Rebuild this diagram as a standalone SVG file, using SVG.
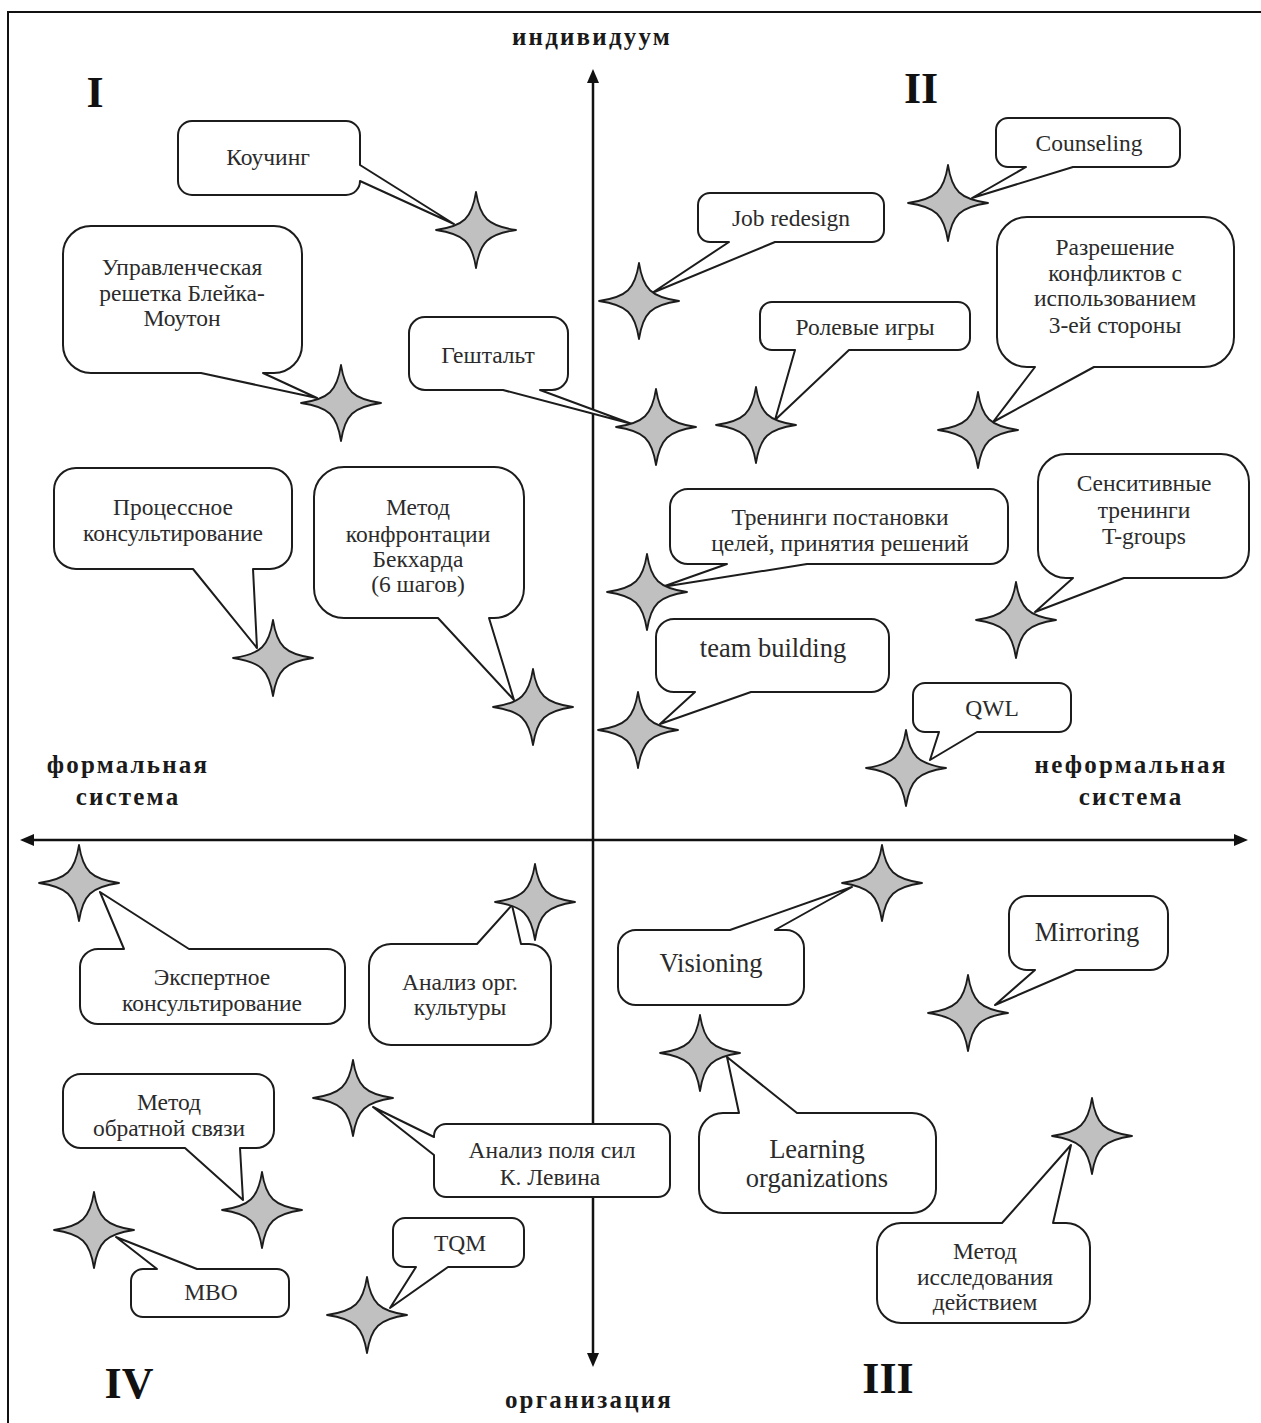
<svg xmlns="http://www.w3.org/2000/svg" width="1261" height="1423" viewBox="0 0 1261 1423">
<style>
.box{fill:#fff;stroke:#1c1c1c;stroke-width:2;stroke-linejoin:round}
.star{fill:#c0c0c0;stroke:#1c1c1c;stroke-width:1.8;stroke-linejoin:round}
.t{font-family:"Liberation Serif","Times New Roman",serif;font-size:23.5px;fill:#2b2b2b;text-anchor:middle}
.tl{font-size:26.5px}
.ax{font-family:"Liberation Serif","Times New Roman",serif;font-weight:bold;font-size:25px;letter-spacing:2.2px;fill:#1a1a1a;text-anchor:middle}
.num{font-family:"Liberation Serif","Times New Roman",serif;font-weight:bold;font-size:44px;fill:#111;text-anchor:middle}
.axis{stroke:#111;stroke-width:2.5;fill:none;marker-start:url(#arr);marker-end:url(#arr)}
.frame{stroke:#111;stroke-width:2;fill:none}
</style>
<defs>
<marker id="arr" markerUnits="userSpaceOnUse" markerWidth="14" markerHeight="12" refX="2" refY="6" orient="auto-start-reverse">
<path d="M0,0 L14,6 L0,12 Z" fill="#111"/>
</marker>
<!-- four-pointed star centred on 0,0 -->
<path id="star" d="M0,-38 C4,-12 12,-4 40,0 C12,4 4,12 0,38 C-4,12 -12,4 -40,0 C-12,-4 -4,-12 0,-38 Z"/>
</defs>

<rect width="1261" height="1423" fill="#fff"/>
<path class="frame" d="M8,1423 V12 H1261"/>

<!-- axes -->
<g id="connectors">
<line class="axis" x1="593" y1="1355" x2="593" y2="81"/>
<line class="axis" x1="32" y1="840" x2="1236" y2="840"/>
</g>

<!-- axis captions and quadrant numbers -->
<g id="labels">
<text class="ax" x="592" y="45">индивидуум</text>
<text class="ax" x="589" y="1408">организация</text>
<text class="ax" x="128" y="773">формальная</text>
<text class="ax" x="128" y="805">система</text>
<text class="ax" x="1131" y="773">неформальная</text>
<text class="ax" x="1131" y="805">система</text>
<text class="num" x="95" y="107">I</text>
<text class="num" x="921" y="103">II</text>
<text class="num" x="888" y="1393">III</text>
<text class="num" x="129" y="1398">IV</text>
</g>

<!-- quadrant I -->
<g id="coaching">
<path class="box" d="M192,121 H346 A14,14 0 0 1 360,135 V165 L454,224 L360,181 A14,14 0 0 1 346,195 H192 A14,14 0 0 1 178,181 V135 A14,14 0 0 1 192,121 Z"/>
<text class="t" x="268" y="165">Коучинг</text>
<use href="#star" class="star" x="476" y="230"/>
</g>
<g id="blake-mouton">
<path class="box" d="M91,226 H274 A28,28 0 0 1 302,254 V345 A28,28 0 0 1 274,373 H263 L317,398 L201,373 H91 A28,28 0 0 1 63,345 V254 A28,28 0 0 1 91,226 Z"/>
<text class="t" x="182" y="275">Управленческая</text>
<text class="t" x="182" y="301">решетка Блейка-</text>
<text class="t" x="182" y="326">Моутон</text>
<use href="#star" class="star" x="341" y="403"/>
</g>
<g id="gestalt">
<path class="box" d="M425,317 H552 A16,16 0 0 1 568,333 V374 A16,16 0 0 1 552,390 H540 L632,424 L503,390 H425 A16,16 0 0 1 409,374 V333 A16,16 0 0 1 425,317 Z"/>
<text class="t" x="488" y="363">Гештальт</text>
<use href="#star" class="star" x="656" y="427"/>
</g>
<g id="process-consulting">
<path class="box" d="M76,468 H270 A22,22 0 0 1 292,490 V547 A22,22 0 0 1 270,569 H253 L257,648 L193,569 H76 A22,22 0 0 1 54,547 V490 A22,22 0 0 1 76,468 Z"/>
<text class="t" x="173" y="515">Процессное</text>
<text class="t" x="173" y="541">консультирование</text>
<use href="#star" class="star" x="273" y="658"/>
</g>
<g id="beckhard">
<path class="box" d="M344,467 H494 A30,30 0 0 1 524,497 V588 A30,30 0 0 1 494,618 H489 L514,700 L438,618 H344 A30,30 0 0 1 314,588 V497 A30,30 0 0 1 344,467 Z"/>
<text class="t" x="418" y="515">Метод</text>
<text class="t" x="418" y="542">конфронтации</text>
<text class="t" x="418" y="567">Бекхарда</text>
<text class="t" x="418" y="592">(6 шагов)</text>
<use href="#star" class="star" x="533" y="707"/>
</g>

<!-- quadrant II -->
<g id="job-redesign">
<path class="box" d="M710,193 H872 A12,12 0 0 1 884,205 V230 A12,12 0 0 1 872,242 H775 L652,293 L729,242 H710 A12,12 0 0 1 698,230 V205 A12,12 0 0 1 710,193 Z"/>
<text class="t" x="791" y="226">Job redesign</text>
<use href="#star" class="star" x="639" y="301"/>
</g>
<g id="counseling">
<path class="box" d="M1008,118 H1168 A12,12 0 0 1 1180,130 V155 A12,12 0 0 1 1168,167 H1073 L972,198 L1026,167 H1008 A12,12 0 0 1 996,155 V130 A12,12 0 0 1 1008,118 Z"/>
<text class="t" x="1089" y="151">Counseling</text>
<use href="#star" class="star" x="948" y="203"/>
</g>
<g id="role-play">
<path class="box" d="M772,302 H958 A12,12 0 0 1 970,314 V338 A12,12 0 0 1 958,350 H849 L775,420 L795,350 H772 A12,12 0 0 1 760,338 V314 A12,12 0 0 1 772,302 Z"/>
<text class="t" x="865" y="335">Ролевые игры</text>
<use href="#star" class="star" x="756" y="425"/>
</g>
<g id="third-party">
<path class="box" d="M1027,217 H1204 A30,30 0 0 1 1234,247 V337 A30,30 0 0 1 1204,367 H1094 L993,422 L1035,367 H1027 A30,30 0 0 1 997,337 V247 A30,30 0 0 1 1027,217 Z"/>
<text class="t" x="1115" y="255">Разрешение</text>
<text class="t" x="1115" y="281">конфликтов с</text>
<text class="t" x="1115" y="306">использованием</text>
<text class="t" x="1115" y="333">3-ей стороны</text>
<use href="#star" class="star" x="978" y="430"/>
</g>
<g id="goal-training">
<path class="box" d="M688,489 H990 A18,18 0 0 1 1008,507 V546 A18,18 0 0 1 990,564 H807 L662,587 L727,564 H688 A18,18 0 0 1 670,546 V507 A18,18 0 0 1 688,489 Z"/>
<text class="t" x="840" y="525">Тренинги постановки</text>
<text class="t" x="840" y="551">целей, принятия решений</text>
<use href="#star" class="star" x="647" y="592"/>
</g>
<g id="t-groups">
<path class="box" d="M1066,454 H1221 A28,28 0 0 1 1249,482 V550 A28,28 0 0 1 1221,578 H1124 L1035,612 L1073,578 H1066 A28,28 0 0 1 1038,550 V482 A28,28 0 0 1 1066,454 Z"/>
<text class="t" x="1144" y="491">Сенситивные</text>
<text class="t" x="1144" y="518">тренинги</text>
<text class="t" x="1144" y="544">T-groups</text>
<use href="#star" class="star" x="1016" y="620"/>
</g>
<g id="team-building">
<path class="box" d="M674,619 H871 A18,18 0 0 1 889,637 V674 A18,18 0 0 1 871,692 H751 L660,724 L695,692 H674 A18,18 0 0 1 656,674 V637 A18,18 0 0 1 674,619 Z"/>
<text class="t tl" x="773" y="657">team building</text>
<use href="#star" class="star" x="638" y="730"/>
</g>
<g id="qwl">
<path class="box" d="M925,683 H1059 A12,12 0 0 1 1071,695 V720 A12,12 0 0 1 1059,732 H977 L930,760 L939,732 H925 A12,12 0 0 1 913,720 V695 A12,12 0 0 1 925,683 Z"/>
<text class="t" x="992" y="716">QWL</text>
<use href="#star" class="star" x="906" y="768"/>
</g>

<!-- quadrant III -->
<g id="visioning">
<path class="box" d="M636,930 H730 L852,887 L775,930 H786 A18,18 0 0 1 804,948 V987 A18,18 0 0 1 786,1005 H636 A18,18 0 0 1 618,987 V948 A18,18 0 0 1 636,930 Z"/>
<text class="t tl" x="711" y="972">Visioning</text>
<use href="#star" class="star" x="882" y="883"/>
</g>
<g id="mirroring">
<path class="box" d="M1027,896 H1150 A18,18 0 0 1 1168,914 V952 A18,18 0 0 1 1150,970 H1076 L995,1005 L1035,970 H1027 A18,18 0 0 1 1009,952 V914 A18,18 0 0 1 1027,896 Z"/>
<text class="t tl" x="1087" y="941">Mirroring</text>
<use href="#star" class="star" x="968" y="1013"/>
</g>
<g id="learning-org">
<path class="box" d="M723,1113 H739 L727,1057 L797,1113 H912 A24,24 0 0 1 936,1137 V1189 A24,24 0 0 1 912,1213 H723 A24,24 0 0 1 699,1189 V1137 A24,24 0 0 1 723,1113 Z"/>
<text class="t tl" x="817" y="1158">Learning</text>
<text class="t tl" x="817" y="1187">organizations</text>
<use href="#star" class="star" x="700" y="1053"/>
</g>
<g id="action-research">
<path class="box" d="M901,1223 H1002 L1071,1145 L1053,1223 H1066 A24,24 0 0 1 1090,1247 V1299 A24,24 0 0 1 1066,1323 H901 A24,24 0 0 1 877,1299 V1247 A24,24 0 0 1 901,1223 Z"/>
<text class="t" x="985" y="1259">Метод</text>
<text class="t" x="985" y="1285">исследования</text>
<text class="t" x="985" y="1310">действием</text>
<use href="#star" class="star" x="1092" y="1136"/>
</g>

<!-- quadrant IV -->
<g id="expert-consulting">
<path class="box" d="M98,949 H124 L100,892 L189,949 H327 A18,18 0 0 1 345,967 V1006 A18,18 0 0 1 327,1024 H98 A18,18 0 0 1 80,1006 V967 A18,18 0 0 1 98,949 Z"/>
<text class="t" x="212" y="985">Экспертное</text>
<text class="t" x="212" y="1011">консультирование</text>
<use href="#star" class="star" x="79" y="883"/>
</g>
<g id="culture-analysis">
<path class="box" d="M391,944 H477 L512,905 L521,944 H529 A22,22 0 0 1 551,966 V1023 A22,22 0 0 1 529,1045 H391 A22,22 0 0 1 369,1023 V966 A22,22 0 0 1 391,944 Z"/>
<text class="t" x="460" y="990">Анализ орг.</text>
<text class="t" x="460" y="1015">культуры</text>
<use href="#star" class="star" x="535" y="902"/>
</g>
<g id="feedback">
<path class="box" d="M81,1074 H256 A18,18 0 0 1 274,1092 V1130 A18,18 0 0 1 256,1148 H240 L243,1200 L185,1148 H81 A18,18 0 0 1 63,1130 V1092 A18,18 0 0 1 81,1074 Z"/>
<text class="t" x="169" y="1110">Метод</text>
<text class="t" x="169" y="1136">обратной связи</text>
<use href="#star" class="star" x="262" y="1210"/>
</g>
<g id="force-field">
<path class="box" d="M446,1124 H658 A12,12 0 0 1 670,1136 V1185 A12,12 0 0 1 658,1197 H446 A12,12 0 0 1 434,1185 V1155 L373,1107 L434,1137 V1136 A12,12 0 0 1 446,1124 Z"/>
<text class="t" x="552" y="1158">Анализ поля сил</text>
<text class="t" x="550" y="1185">К. Левина</text>
<use href="#star" class="star" x="353" y="1098"/>
</g>
<g id="mbo">
<path class="box" d="M143,1269 H157 L116,1237 L197,1269 H277 A12,12 0 0 1 289,1281 V1305 A12,12 0 0 1 277,1317 H143 A12,12 0 0 1 131,1305 V1281 A12,12 0 0 1 143,1269 Z"/>
<text class="t" x="211" y="1300">MBO</text>
<use href="#star" class="star" x="94" y="1230"/>
</g>
<g id="tqm">
<path class="box" d="M405,1218 H512 A12,12 0 0 1 524,1230 V1255 A12,12 0 0 1 512,1267 H448 L390,1308 L416,1267 H405 A12,12 0 0 1 393,1255 V1230 A12,12 0 0 1 405,1218 Z"/>
<text class="t" x="460" y="1251">TQM</text>
<use href="#star" class="star" x="367" y="1315"/>
</g>
</svg>
